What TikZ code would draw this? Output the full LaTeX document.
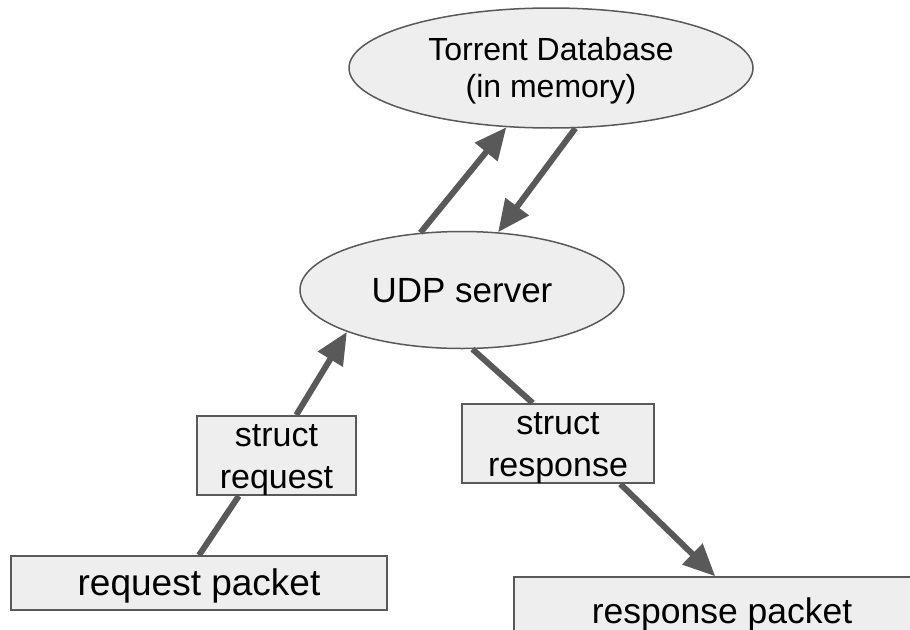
\documentclass[tikz,border=0pt]{standalone}
\usepackage{fontspec}
\setmainfont{Liberation Sans}
\usetikzlibrary{arrows.meta,shapes.geometric}
\definecolor{edgegray}{HTML}{595959}
\definecolor{boxfill}{HTML}{EEEEEE}
\newcommand{\gstrut}{\rule[-0.212em]{0pt}{1.117em}}
\tikzset{
  oval/.style={ellipse, draw=edgegray, fill=boxfill, line width=1.5pt, inner sep=0pt, align=center, text=black},
  rbox/.style={rectangle, draw=edgegray, fill=boxfill, line width=1.5pt, inner sep=0pt, align=center, text=black},
  conn/.style={draw=edgegray, line width=6pt},
  arr/.style={conn, -{Triangle[length=32pt, width=28pt]}},
}
\begin{document}
\begin{tikzpicture}[x=1pt, y=-1pt]
\useasboundingbox (0,0) rectangle (910,629);
\node[oval, minimum width=404pt, minimum height=120pt,
  font=\fontsize{32}{35}\selectfont] (tdb) at (551,68)
  {\gstrut Torrent Database\\\gstrut (in memory)};
\node[oval, minimum width=324pt, minimum height=117pt,
  font=\fontsize{35}{40}\selectfont] (udp) at (462,290)
  {\gstrut UDP server};
\node[rbox, minimum width=159pt, minimum height=79pt,
  font=\fontsize{34}{41.5}\selectfont] (sreq) at (276.5,455.5)
  {\gstrut struct\\\gstrut request};
\node[rbox, minimum width=192pt, minimum height=79pt,
  font=\fontsize{34}{41.5}\selectfont] (sres) at (558,443.5)
  {\gstrut struct\\\gstrut response};
\node[rbox, minimum width=376pt, minimum height=54pt,
  font=\fontsize{37}{42}\selectfont] (rqp) at (199,583)
  {\gstrut request packet};
\node[rbox, minimum width=416pt, minimum height=68pt,
  font=\fontsize{35.5}{41}\selectfont] (rsp) at (722,611)
  {\gstrut response packet};

\draw[arr] (udp.126.3) -- (tdb.-127.5);
\draw[arr] (tdb.292) -- (udp.58.2);
\draw[conn] (rqp.north) -- (sreq.227.3);
\draw[arr] (sreq.64.9) -- (udp.200.7);
\draw[conn] (udp.280.6) -- (sres.122.3);
\draw[arr] (sres.-33.8) -- (rsp.101.5);
\end{tikzpicture}
\end{document}
